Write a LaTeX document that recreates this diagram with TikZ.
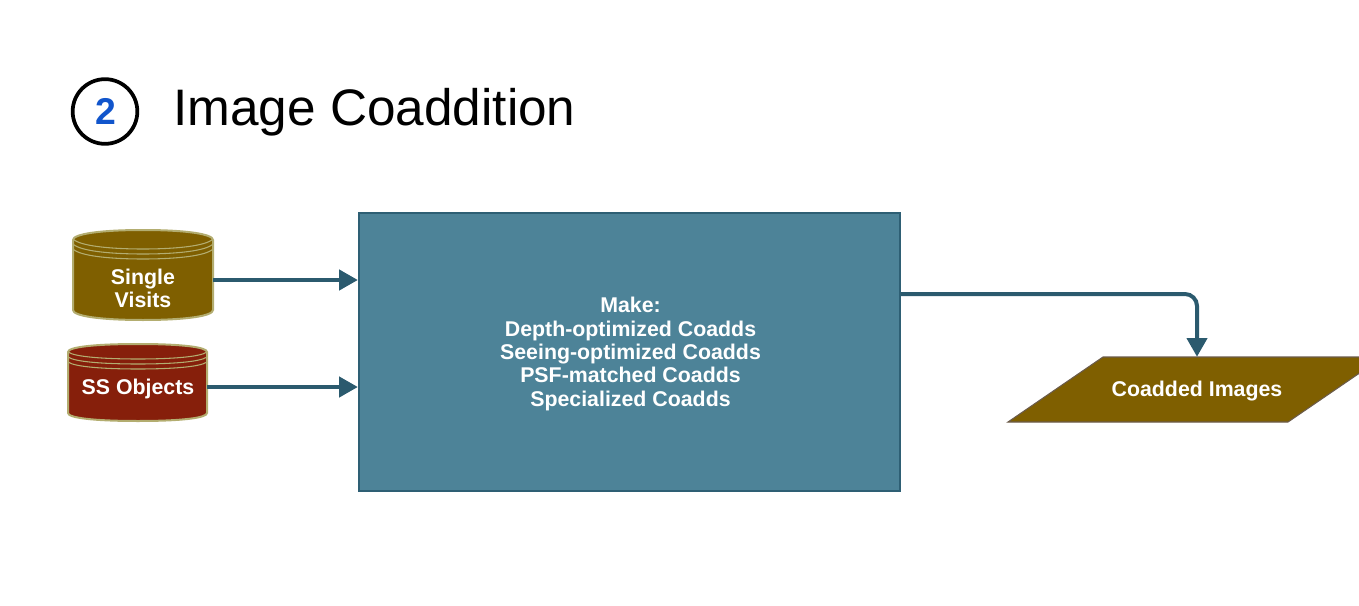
\documentclass[tikz,border=0pt]{standalone}
\usepackage{fontspec}
\setmainfont{Liberation Sans}
\usetikzlibrary{arrows.meta}
\definecolor{brownfill}{HTML}{7F5F00}
\definecolor{redfill}{HTML}{861F0B}
\definecolor{cylline}{HTML}{B3AD70}
\definecolor{boxfill}{HTML}{4D8398}
\definecolor{boxline}{HTML}{2E5F74}
\definecolor{arrowc}{HTML}{2B5A6E}
\definecolor{paraline}{HTML}{6B5B4A}
\definecolor{numblue}{HTML}{1155CC}
\tikzset{
  lab/.style={text=white,font=\bfseries\fontsize{16}{17.6}\selectfont,align=center,inner sep=0pt},
  flow/.style={draw=arrowc,line width=3pt,-{Triangle[length=14pt,width=15pt]}},
  cylbody/.style={draw=cylline,line width=1.5pt},
  cylring/.style={draw=cylline,line width=.8pt},
}
\begin{document}
\begin{tikzpicture}[x=.75pt,y=-.75pt]
\useasboundingbox (0,0) rectangle (1359,606);
% title
\node[circle,draw=black,line width=2.8pt,minimum size=48.5pt,inner sep=0pt,text=numblue,font=\bfseries\fontsize{28}{30}\selectfont] (num) at (105,111.5) {\raisebox{-1pt}{\hspace{.7pt}2}};
\node[anchor=base west,inner sep=0pt,font=\fontsize{38.5}{42}\selectfont] (title) at (173,126) {Image Coaddition};
% main box
\node[draw=boxline,fill=boxfill,line width=1.5pt,minimum width=406pt,minimum height=208pt,inner sep=0pt] (mb) at (629.5,352) {};
\node[lab] (mbl) at (630.5,354) {Make:\\Depth-optimized Coadds\\Seeing-optimized Coadds\\PSF-matched Coadds\\Specialized Coadds};
% single visits cylinder
\path[cylbody,fill=brownfill] (73,240) -- (73,310) .. controls (73,316) and (100,320) .. (143,320) .. controls (186,320) and (213,316) .. (213,310) -- (213,240) .. controls (213,234) and (186,230) .. (143,230) .. controls (100,230) and (73,234) .. (73,240) -- cycle;
\foreach \d in {0,5,10}{
  \draw[cylring] (73,{239+\d}) .. controls (80,{246+\d}) and (110,{249+\d}) .. (143,{249+\d}) .. controls (176,{249+\d}) and (206,{246+\d}) .. (213,{239+\d});
}
\node[lab] (svl) at (143,288.5) {Single\\Visits};
\coordinate (svout) at (213,280);
% ss objects cylinder
\path[cylbody,fill=redfill] (68,352) -- (68,413) .. controls (68,418) and (95,421) .. (138,421) .. controls (181,421) and (207,418) .. (207,413) -- (207,352) .. controls (207,347) and (181,344) .. (138,344) .. controls (95,344) and (68,347) .. (68,352) -- cycle;
\foreach \d in {0,5,10}{
  \draw[cylring] (68,{352+\d}) .. controls (75,{357+\d}) and (105,{359+\d}) .. (138,{359+\d}) .. controls (171,{359+\d}) and (200,{357+\d}) .. (207,{352+\d});
}
\node[lab] (ssl) at (138,388.5) {SS Objects};
\coordinate (ssout) at (207,387);
% output parallelogram
\path[draw=paraline,fill=brownfill,line width=.8pt] (1008,422) -- (1103,357) -- (1383,357) -- (1288,422) -- cycle;
\node[lab,minimum height=48.75pt] (ci) at (1197,391) {Coadded Images};
\coordinate (mbout) at (901,294);
% connectors
\draw[flow] (svout) -- (svout -| mb.west);
\draw[flow] (ssout) -- (ssout -| mb.west);
\draw[flow,rounded corners=9pt] (mbout) -| ([yshift=1.1pt]ci.north);
\end{tikzpicture}
\end{document}
